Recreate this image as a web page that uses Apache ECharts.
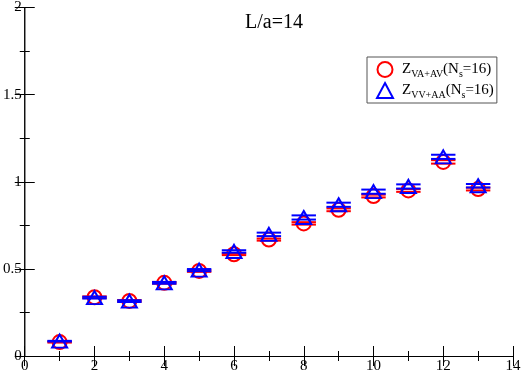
<!DOCTYPE html>
<html>
<head>
<meta charset="utf-8">
<script src="https://cdn.jsdelivr.net/npm/echarts@6/dist/echarts.min.js"></script>
<style>
    html, body { margin: 0; padding: 0; background: #fff; }
    #chart { width: 532px; height: 374px; }
</style>
</head>
<body>
<div id="chart"></div>
<script>
// x positions
var xs = [1, 2, 3, 4, 5, 6, 7, 8, 9, 10, 11, 12, 13]
// Z_VA+AV (Ns=16)
var vaav = [0.080, 0.337, 0.316, 0.420, 0.488, 0.584, 0.668, 0.761, 0.839, 0.918, 0.950, 1.114, 0.958]
var vaavErr = [0.003, 0.005, 0.005, 0.005, 0.005, 0.005, 0.006, 0.007, 0.008, 0.008, 0.008, 0.010, 0.008]
// Z_VV+AA (Ns=16)
var vvaa = [0.085, 0.335, 0.315, 0.420, 0.493, 0.600, 0.698, 0.795, 0.868, 0.943, 0.973, 1.143, 0.977]
var vvaaErr = [0.002, 0.005, 0.005, 0.005, 0.006, 0.007, 0.010, 0.012, 0.012, 0.012, 0.012, 0.012, 0.010]

var nameA = 'Z_VA+AV(N_s=16)'
var nameB = 'Z_VV+AA(N_s=16)'

var serif = 'Liberation Serif'

function points(vals) {
    return xs.map(function (x, i) { return [x, vals[i]] })
}
function errData(vals, errs) {
    return xs.map(function (x, i) { return [x, vals[i], errs[i]] })
}

// horizontal caps at y +/- err, half width 0.35 in x units
function capRenderer(color) {
    return function (params, api) {
        var x = api.value(0), y = api.value(1), e = api.value(2)
        var hi = api.coord([x - 0.35, y + e])
        var hi2 = api.coord([x + 0.35, y + e])
        var lo = api.coord([x - 0.35, y - e])
        var lo2 = api.coord([x + 0.35, y - e])
        var st = { stroke: color, lineWidth: 2 }
        return {
            type: 'group',
            children: [
                { type: 'line', shape: { x1: hi[0], y1: hi[1], x2: hi2[0], y2: hi2[1] }, style: st },
                { type: 'line', shape: { x1: lo[0], y1: lo[1], x2: lo2[0], y2: lo2[1] }, style: st }
            ]
        }
    }
}

var chart = echarts.init(document.getElementById('chart'))

var axisCommon = {
    axisLine: { lineStyle: { color: '#000', width: 1 } },
    axisTick: { inside: true, length: 10, lineStyle: { color: '#000' } },
    minorTick: { show: true, splitNumber: 2, length: 5, lineStyle: { color: '#000' } },
    splitLine: { show: false }
}
var labelStyle = { fontFamily: serif, fontSize: 15, color: '#000', margin: 3 }

chart.setOption({
    animation: false,
    backgroundColor: '#fff',
    title: {
        text: 'L/a=14',
        left: 245,
        top: 13,
        padding: 0,
        textStyle: { fontFamily: serif, fontSize: 20, fontWeight: 'normal', color: '#000' }
    },
    grid: { left: 23, right: 19, top: 6, bottom: 17 },
    legend: {
        data: [nameA, nameB],
        orient: 'vertical',
        left: 367,
        top: 57,
        padding: [4, 3, 3, 9],
        itemGap: 3,
        itemWidth: 16,
        itemHeight: 15,
        borderColor: '#555',
        borderWidth: 1,
        backgroundColor: '#fff',
        formatter: function (name) {
            var sub = name === nameA ? 'VA+AV' : 'VV+AA'
            return '{z|Z}{s|' + sub + '}{m|(N}{s|s}{m|=16)}'
        },
        textStyle: {
            fontFamily: serif,
            color: '#000',
            rich: {
                z: { fontFamily: serif, fontSize: 15, color: '#000', padding: [0, 0, 0, 4] },
                m: { fontFamily: serif, fontSize: 15, color: '#000' },
                s: { fontFamily: serif, fontSize: 10, color: '#000', padding: [9, 0, 0, 0] }
            }
        }
    },
    xAxis: [
        Object.assign({
            type: 'value', min: 0, max: 14, interval: 2,
            axisLabel: labelStyle
        }, axisCommon),
        Object.assign({
            type: 'value', min: 0, max: 14, interval: 2, position: 'top',
            axisLabel: { show: false }
        }, axisCommon)
    ],
    yAxis: [
        Object.assign({
            type: 'value', min: 0, max: 2, interval: 0.5,
            axisLabel: labelStyle
        }, axisCommon),
        Object.assign({
            type: 'value', min: 0, max: 2, interval: 0.5, position: 'right',
            axisLabel: { show: false }
        }, axisCommon)
    ],
    series: [
        {
            type: 'custom',
            name: 'errA',
            renderItem: capRenderer('#ff0000'),
            data: errData(vaav, vaavErr),
            z: 2
        },
        {
            name: nameA,
            type: 'scatter',
            symbol: 'circle',
            symbolSize: 14,
            itemStyle: { color: 'rgba(0,0,0,0)', borderColor: '#ff0000', borderWidth: 2, opacity: 1 },
            data: points(vaav),
            z: 3
        },
        {
            type: 'custom',
            name: 'errB',
            renderItem: capRenderer('#0000ff'),
            data: errData(vvaa, vvaaErr),
            z: 4
        },
        {
            name: nameB,
            type: 'scatter',
            symbol: 'triangle',
            symbolSize: [15, 13],
            itemStyle: { color: 'rgba(0,0,0,0)', borderColor: '#0000ff', borderWidth: 2, opacity: 1 },
            data: points(vvaa),
            z: 5
        }
    ]
})
</script>
</body>
</html>
